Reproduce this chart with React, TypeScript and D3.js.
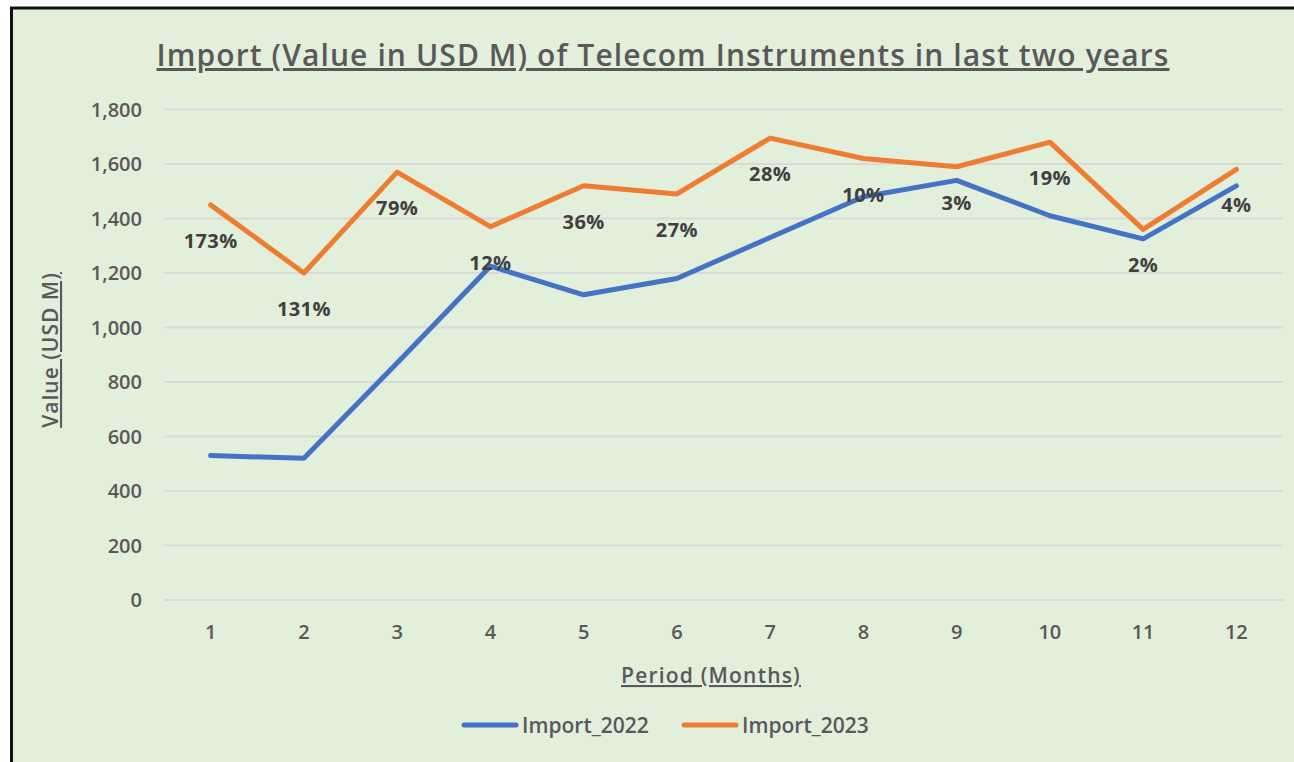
import React, { useEffect, useRef } from 'react';
import * as d3 from 'd3';

const months = ['1', '2', '3', '4', '5', '6', '7', '8', '9', '10', '11', '12'];
const import2022 = [530, 520, 870, 1225, 1120, 1180, 1330, 1480, 1540, 1410, 1325, 1520];
const import2023 = [1450, 1200, 1570, 1370, 1520, 1490, 1695, 1620, 1590, 1680, 1360, 1580];
const growthLabels = ['173%', '131%', '79%', '12%', '36%', '27%', '28%', '10%', '3%', '19%', '2%', '4%'];
const yTicks = [0, 200, 400, 600, 800, 1000, 1200, 1400, 1600, 1800];

const W = 1294;
const H = 762;
const FONT = '"Open Sans", "Noto Sans", sans-serif';
const GRAY = '#595959';

const App = () => {
  const svgRef = useRef<SVGSVGElement | null>(null);

  useEffect(() => {
    const svg = d3.select(svgRef.current);
    svg.selectAll('*').remove();

    // page background and chart frame
    svg.append('rect').attr('width', W).attr('height', H).attr('fill', '#ffffff');
    svg.append('rect')
      .attr('x', 12).attr('y', 8).attr('width', W).attr('height', H)
      .attr('fill', '#e2efda');
    svg.append('line').attr('x1', 11.5).attr('x2', 11.5).attr('y1', 7).attr('y2', H)
      .attr('stroke', '#111').attr('stroke-width', 3);
    svg.append('line').attr('x1', 10).attr('x2', W).attr('y1', 8).attr('y2', 8)
      .attr('stroke', '#111').attr('stroke-width', 3);

    const margin = { left: 164, right: W - 1283, top: 109.5, bottom: H - 600 };

    const x = d3.scalePoint()
      .domain(months)
      .range([margin.left, W - margin.right])
      .padding(0.5);

    const y = d3.scaleLinear()
      .domain([0, 1800])
      .range([H - margin.bottom, margin.top]);

    // gridlines
    svg.append('g')
      .selectAll('line')
      .data(yTicks)
      .enter()
      .append('line')
      .attr('x1', margin.left)
      .attr('x2', W - margin.right)
      .attr('y1', d => y(d))
      .attr('y2', d => y(d))
      .attr('stroke', '#d9d9d9')
      .attr('stroke-width', 2);

    // y tick labels
    svg.append('g')
      .selectAll('text')
      .data(yTicks)
      .enter()
      .append('text')
      .attr('x', 142)
      .attr('y', d => y(d))
      .attr('dy', '0.35em')
      .attr('text-anchor', 'end')
      .attr('font-family', FONT)
      .attr('font-size', 20)
      .attr('font-weight', 600)
      .attr('fill', GRAY)
      .text(d => d3.format(',')(d));

    // x tick labels
    svg.append('g')
      .selectAll('text')
      .data(months)
      .enter()
      .append('text')
      .attr('x', d => x(d) as number)
      .attr('y', 639)
      .attr('text-anchor', 'middle')
      .attr('font-family', FONT)
      .attr('font-size', 20)
      .attr('font-weight', 600)
      .attr('fill', GRAY)
      .text(d => d);

    // lines
    const line = d3.line<number>()
      .x((d, i) => x(months[i]) as number)
      .y(d => y(d));

    [[import2022, '#4472c4'], [import2023, '#ed7d31']].forEach(([vals, color]) => {
      svg.append('path')
        .datum(vals as number[])
        .attr('fill', 'none')
        .attr('stroke', color as string)
        .attr('stroke-width', 5)
        .attr('stroke-linejoin', 'round')
        .attr('stroke-linecap', 'round')
        .attr('d', line);
    });

    // growth labels below the 2023 line
    svg.append('g')
      .selectAll('text')
      .data(growthLabels)
      .enter()
      .append('text')
      .attr('x', (d, i) => x(months[i]) as number)
      .attr('y', (d, i) => y(import2023[i]) + 43)
      .attr('text-anchor', 'middle')
      .attr('font-family', FONT)
      .attr('font-size', 20)
      .attr('font-weight', 700)
      .attr('letter-spacing', 0.4)
      .attr('fill', '#404040')
      .text(d => d);

    // title
    svg.append('text')
      .attr('x', 663)
      .attr('y', 66)
      .attr('text-anchor', 'middle')
      .attr('font-family', FONT)
      .attr('font-size', 30)
      .attr('font-weight', 600)
      .attr('letter-spacing', 1.1)
      .attr('fill', GRAY)
      .style('text-decoration', 'underline')
      .text('Import (Value in USD M) of Telecom Instruments in last two years');

    // axis titles
    svg.append('text')
      .attr('transform', 'translate(58, 350) rotate(-90)')
      .attr('text-anchor', 'middle')
      .attr('font-family', FONT)
      .attr('font-size', 21)
      .attr('font-weight', 600)
      .attr('letter-spacing', 1)
      .attr('fill', GRAY)
      .style('text-decoration', 'underline')
      .text('Value (USD M)');

    svg.append('text')
      .attr('x', 711)
      .attr('y', 683)
      .attr('text-anchor', 'middle')
      .attr('font-family', FONT)
      .attr('font-size', 21)
      .attr('font-weight', 600)
      .attr('letter-spacing', 1.2)
      .attr('fill', GRAY)
      .style('text-decoration', 'underline')
      .text('Period (Months)');

    // legend
    const legend = [
      { name: 'Import_2022', color: '#4472c4', x: 462 },
      { name: 'Import_2023', color: '#ed7d31', x: 682 },
    ];
    const lg = svg.append('g');
    legend.forEach(l => {
      lg.append('line')
        .attr('x1', l.x + 2).attr('x2', l.x + 54)
        .attr('y1', 725).attr('y2', 725)
        .attr('stroke', l.color)
        .attr('stroke-width', 5)
        .attr('stroke-linecap', 'round');
      lg.append('text')
        .attr('x', l.x + 60)
        .attr('y', 733)
        .attr('font-family', FONT)
        .attr('font-size', 21)
        .attr('font-weight', 600)
        .attr('fill', GRAY)
        .text(l.name);
    });
  }, []);

  return (
    <svg ref={svgRef} width={W} height={H} style={{ position: 'absolute', left: 0, top: 0 }}></svg>
  );
};

export default App;
